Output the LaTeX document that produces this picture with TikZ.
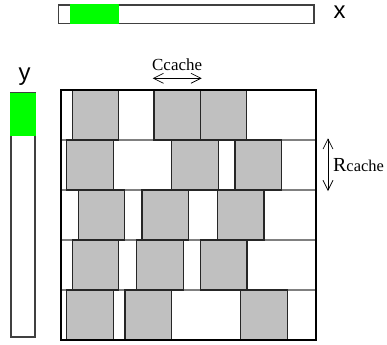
\documentclass[tikz,border=0pt]{standalone}
\usepackage{fontspec}
\setmainfont{Liberation Serif}
\newfontfamily\labsans{Liberation Sans}
\usetikzlibrary{arrows.meta}
\definecolor{blockgrey}{HTML}{C0C0C0}
\definecolor{rowgrey}{HTML}{808080}
\definecolor{bargreen}{HTML}{00FF00}
\tikzset{
  frame/.style={draw=black, line width=2bp},
  rowline/.style={draw=rowgrey, line width=1.4bp},
  blk/.style={fill=blockgrey, draw=black!85, line width=1.1bp},
  bar/.style={draw=black!75, line width=1.2bp, fill=white},
  greenfill/.style={fill=bargreen},
  dimarrow/.style={draw=black, line width=0.7bp, {Straight Barb[length=10bp,width=10bp]}-{Straight Barb[length=10bp,width=10bp]}},
  axlabel/.style={inner sep=0pt, anchor=base, font=\labsans\fontsize{24}{24}\selectfont},
  dimlabel/.style={inner sep=0pt, anchor=base west}
}
\begin{document}
\begin{tikzpicture}[x=1bp,y=-1bp]
\useasboundingbox (0,0) rectangle (387,345);
% x bar
\path[bar] (58.3,5) rectangle (314,23.3);
\path[greenfill] (70,4.4) rectangle (119,23.9);
\node[axlabel] (xlab) at (339.5,18) {x};
% y bar
\path[bar] (11,93) rectangle (35,337);
\path[greenfill] (10.4,93) rectangle (35.6,136);
\node[axlabel] (ylab) at (24.5,80.7) {y};
% row lines
\foreach \yy in {140,190,240,290} {
  \draw[rowline] (61,\yy) -- (316,\yy);
}
% blocks
\foreach \row/\list in {90/{72.3,154,200.3}, 140/{66.7,171.7,235}, 190/{78.3,142,217.5}, 240/{72.3,136.7,200.5}, 290/{66.7,125,240.7}} {
  \foreach \xx in \list {
    \path[blk] (\xx,\row) rectangle ++(46.5,50);
  }
}
% frame
\path[frame] (61,90) rectangle (316,340);
% C cache
\node[dimlabel] (clab) at (152,70.7) {{\fontsize{17}{17}\selectfont C}{\fontsize{17}{17}\selectfont cache}};
\coordinate (cl) at (152.7,78.3);
\coordinate (cr) at (201.7,78.3);
\draw[dimarrow] (cl) -- (cr);
% R cache
\node[dimlabel] (rlab) at (333,171.7) {{\fontsize{20}{20}\selectfont R}{\fontsize{16.5}{16.5}\selectfont cache}};
\coordinate (rt) at (328,138.3);
\coordinate (rb) at (328,191);
\draw[dimarrow] (rt) -- (rb);
\end{tikzpicture}
\end{document}
